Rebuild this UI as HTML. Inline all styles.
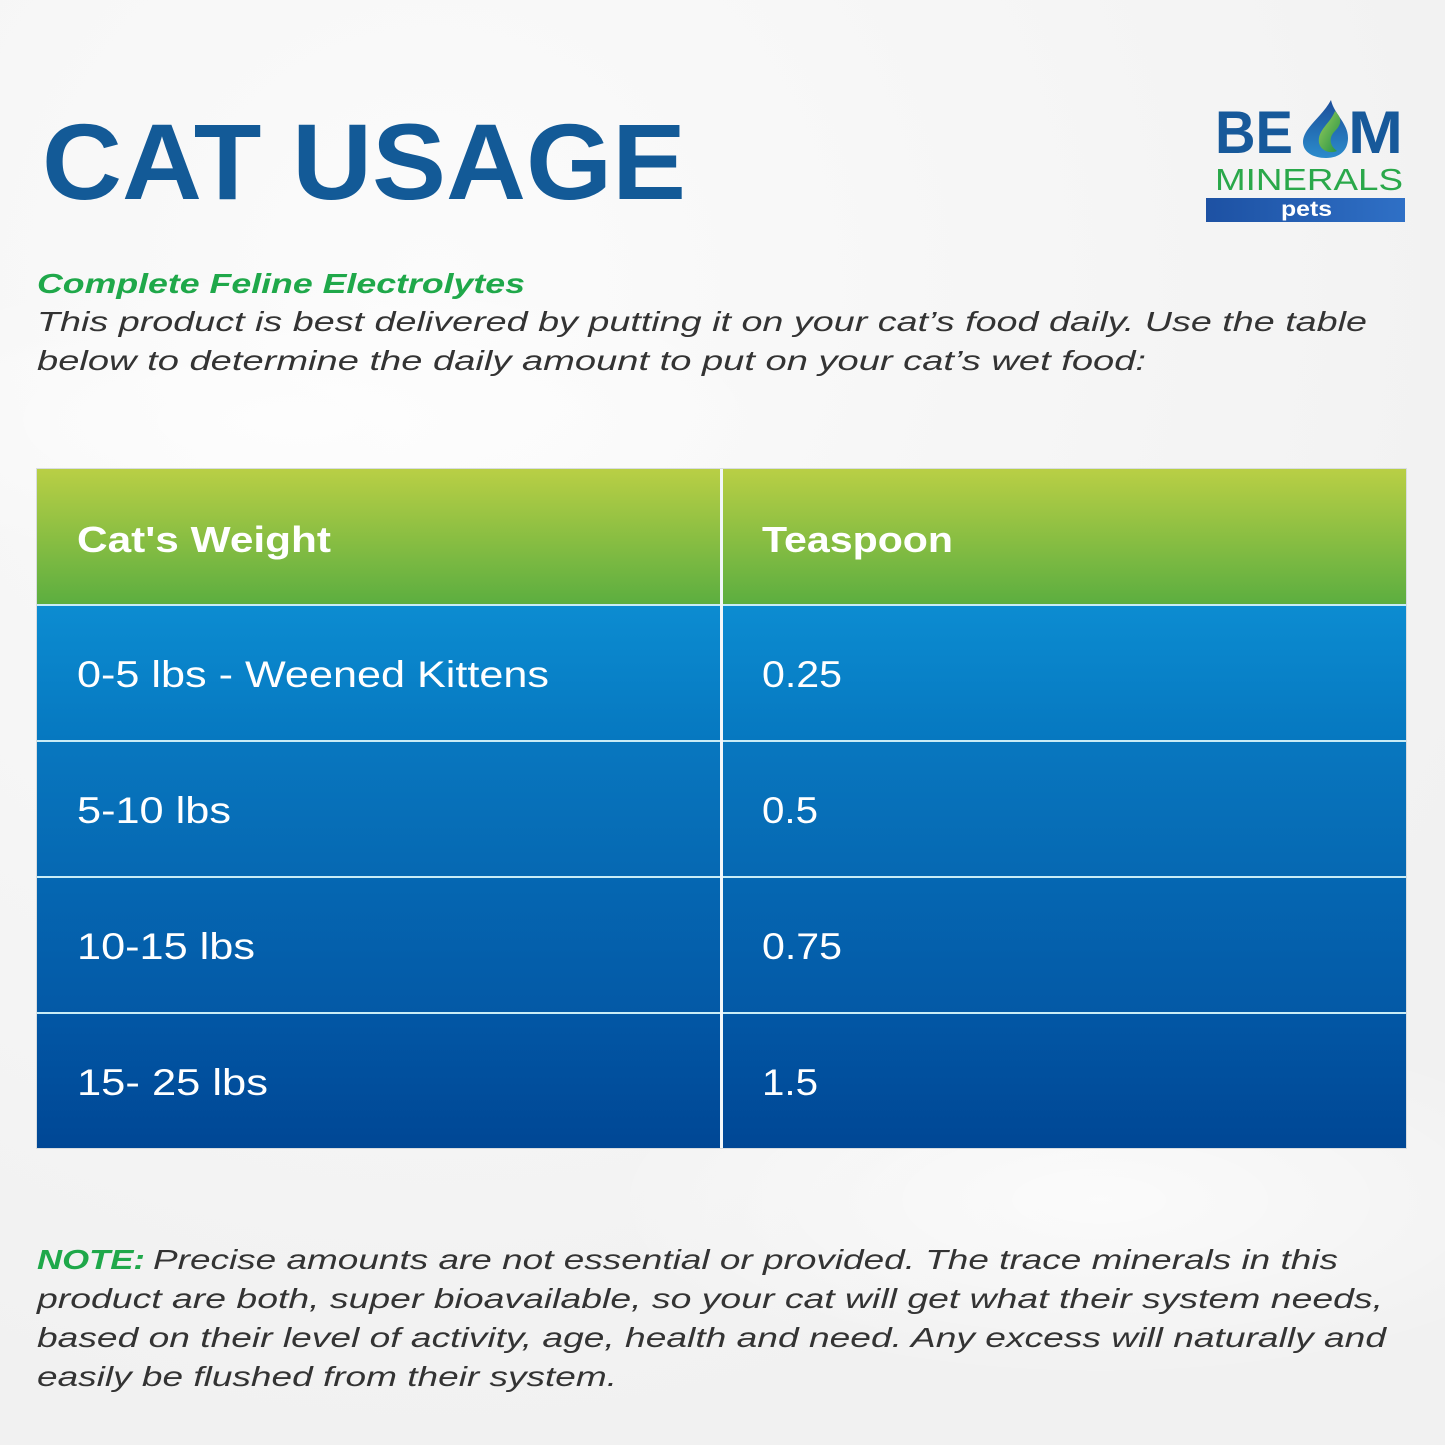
<!DOCTYPE html>
<html><head><meta charset="utf-8"><style>
html,body{margin:0;padding:0;width:1445px;height:1445px;overflow:hidden;background:#f5f5f5}
svg{display:block}
</style></head><body>
<svg width="1445" height="1445" viewBox="0 0 1445 1445" xmlns="http://www.w3.org/2000/svg">
<defs>
<radialGradient id="bg1" cx="0.3" cy="0.2" r="0.8"><stop offset="0" stop-color="#fbfbfb"/><stop offset="1" stop-color="#f1f1f1"/></radialGradient>
<radialGradient id="bg2" cx="0.5" cy="0.5" r="0.5"><stop offset="0" stop-color="#ffffff" stop-opacity="0.7"/><stop offset="1" stop-color="#ffffff" stop-opacity="0"/></radialGradient>
<linearGradient id="hdr" x1="0" y1="0" x2="0" y2="1"><stop offset="0" stop-color="#b9cf45"/><stop offset="1" stop-color="#5cae40"/></linearGradient>
<linearGradient id="r1" x1="0" y1="0" x2="0" y2="1"><stop offset="0" stop-color="#0c8cd1"/><stop offset="1" stop-color="#0678c0"/></linearGradient>
<linearGradient id="r2" x1="0" y1="0" x2="0" y2="1"><stop offset="0" stop-color="#0877bf"/><stop offset="1" stop-color="#0668b2"/></linearGradient>
<linearGradient id="r3" x1="0" y1="0" x2="0" y2="1"><stop offset="0" stop-color="#0567b2"/><stop offset="1" stop-color="#0459a6"/></linearGradient>
<linearGradient id="r4" x1="0" y1="0" x2="0" y2="1"><stop offset="0" stop-color="#0257a5"/><stop offset="1" stop-color="#004795"/></linearGradient>
<linearGradient id="pets" x1="0" y1="0" x2="1" y2="0"><stop offset="0" stop-color="#1d51a3"/><stop offset="1" stop-color="#2f70c6"/></linearGradient>
<linearGradient id="drop" x1="0" y1="0" x2="0" y2="1"><stop offset="0" stop-color="#1c4e9a"/><stop offset="1" stop-color="#2b8ccc"/></linearGradient>
<linearGradient id="dropg" x1="0" y1="0" x2="1" y2="1"><stop offset="0" stop-color="#9ccf5a"/><stop offset="1" stop-color="#1f8f46"/></linearGradient>
</defs>
<rect width="1445" height="1445" fill="url(#bg1)"/>
<ellipse cx="300" cy="420" rx="500" ry="160" fill="url(#bg2)"/>
<ellipse cx="1100" cy="1200" rx="500" ry="180" fill="url(#bg2)"/>

<!-- Title -->
<text x="42" y="199" font-family="Liberation Sans, sans-serif" font-weight="bold" font-size="108" fill="#135a97" textLength="644" lengthAdjust="spacingAndGlyphs">CAT USAGE</text>

<!-- Logo -->
<text x="1215" y="153" font-family="Liberation Sans, sans-serif" font-weight="bold" font-size="60" fill="#17599a" textLength="78" lengthAdjust="spacingAndGlyphs">BE</text>
<path d="M1331,100 C1322,117 1303,128 1303,142 C1303,152 1313,158 1326,158 C1340,158 1348,150 1348,138 C1348,123 1334,114 1331,100 Z" fill="url(#drop)"/>
<path d="M1335,111 C1330,124 1317,130 1319,143 C1321,151 1330,154 1337,151 C1330,146 1328,138 1335,131 C1341,125 1343,119 1335,111 Z" fill="url(#dropg)"/>
<text x="1348" y="153" font-family="Liberation Sans, sans-serif" font-weight="bold" font-size="60" fill="#17599a" textLength="55" lengthAdjust="spacingAndGlyphs">M</text>
<text x="1215" y="190" font-family="Liberation Sans, sans-serif" font-size="31" fill="#2aa84a" textLength="188" lengthAdjust="spacingAndGlyphs">MINERALS</text>
<rect x="1206" y="198" width="199" height="24" fill="url(#pets)"/>
<text x="1281" y="216" font-family="Liberation Sans, sans-serif" font-weight="bold" font-size="21" fill="#ffffff" textLength="51" lengthAdjust="spacingAndGlyphs">pets</text>

<!-- Subtitle & body -->
<text x="37" y="293" font-family="Liberation Sans, sans-serif" font-weight="bold" font-style="italic" font-size="28" fill="#1fa84a" textLength="488" lengthAdjust="spacingAndGlyphs">Complete Feline Electrolytes</text>
<g font-family="Liberation Sans, sans-serif" font-style="italic" font-size="28" fill="#333333">
<text x="37" y="331" textLength="1330" lengthAdjust="spacingAndGlyphs">This product is best delivered by putting it on your cat’s food daily. Use the table</text>
<text x="37" y="370" textLength="1109" lengthAdjust="spacingAndGlyphs">below to determine the daily amount to put on your cat’s wet food:</text>
</g>

<!-- Table -->
<rect x="36" y="468" width="1371" height="681" fill="#d8dde0"/>
<rect x="37" y="469" width="1369" height="135" fill="url(#hdr)"/>
<rect x="37" y="604" width="1369" height="2" fill="#c9ecf6"/>
<rect x="37" y="606" width="1369" height="134" fill="url(#r1)"/>
<rect x="37" y="740" width="1369" height="2" fill="#c9ecf6"/>
<rect x="37" y="742" width="1369" height="134" fill="url(#r2)"/>
<rect x="37" y="876" width="1369" height="2" fill="#c9ecf6"/>
<rect x="37" y="878" width="1369" height="134" fill="url(#r3)"/>
<rect x="37" y="1012" width="1369" height="2" fill="#c9ecf6"/>
<rect x="37" y="1014" width="1369" height="134" fill="url(#r4)"/>
<rect x="720" y="469" width="3" height="679" fill="#f2f7fa"/>

<g font-family="Liberation Sans, sans-serif" font-size="37" fill="#ffffff">
<text x="77" y="552" font-weight="bold" font-size="36" textLength="254" lengthAdjust="spacingAndGlyphs">Cat's Weight</text>
<text x="762" y="552" font-weight="bold" font-size="36" textLength="191" lengthAdjust="spacingAndGlyphs">Teaspoon</text>
<text x="77" y="687" textLength="472" lengthAdjust="spacingAndGlyphs">0-5 lbs - Weened Kittens</text>
<text x="762" y="687" textLength="80" lengthAdjust="spacingAndGlyphs">0.25</text>
<text x="77" y="823" textLength="154" lengthAdjust="spacingAndGlyphs">5-10 lbs</text>
<text x="762" y="823" textLength="56" lengthAdjust="spacingAndGlyphs">0.5</text>
<text x="77" y="959" textLength="178" lengthAdjust="spacingAndGlyphs">10-15 lbs</text>
<text x="762" y="959" textLength="80" lengthAdjust="spacingAndGlyphs">0.75</text>
<text x="77" y="1095" textLength="191" lengthAdjust="spacingAndGlyphs">15- 25 lbs</text>
<text x="762" y="1095" textLength="56" lengthAdjust="spacingAndGlyphs">1.5</text>
</g>

<!-- Note -->
<text x="37" y="1269" font-family="Liberation Sans, sans-serif" font-weight="bold" font-style="italic" font-size="28" fill="#1fa84a" textLength="108" lengthAdjust="spacingAndGlyphs">NOTE:</text>
<g font-family="Liberation Sans, sans-serif" font-style="italic" font-size="28" fill="#333333">
<text x="153" y="1269" textLength="1185" lengthAdjust="spacingAndGlyphs">Precise amounts are not essential or provided. The trace minerals in this</text>
<text x="37" y="1308" textLength="1346" lengthAdjust="spacingAndGlyphs">product are both, super bioavailable, so your cat will get what their system needs,</text>
<text x="37" y="1347" textLength="1349" lengthAdjust="spacingAndGlyphs">based on their level of activity, age, health and need. Any excess will naturally and</text>
<text x="37" y="1386" textLength="580" lengthAdjust="spacingAndGlyphs">easily be flushed from their system.</text>
</g>
</svg>
</body></html>
